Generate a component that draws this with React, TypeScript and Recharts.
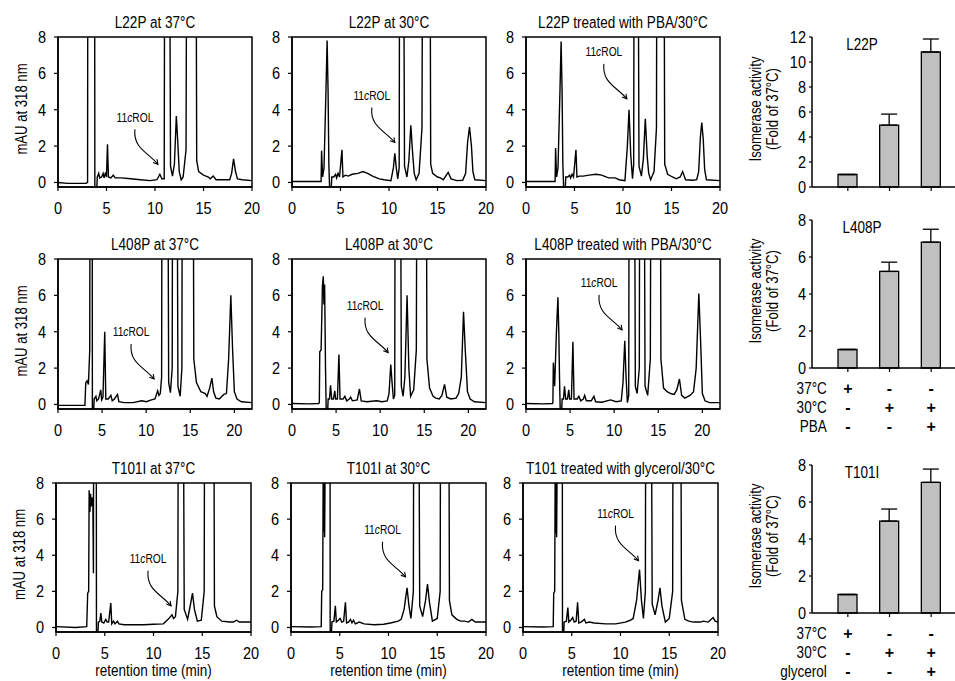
import React from 'react';
import {
  LineChart,
  Line,
  BarChart,
  Bar,
  ErrorBar,
  XAxis,
  YAxis,
  ReferenceArea,
  ReferenceDot,
} from 'recharts';

const FONT = "'Liberation Sans', Arial, sans-serif";

// HPLC traces: [retention time (min), mAU at 318 nm]; 30 = peak off scale
const L22P_37: [number, number][] = [
  [0, 0], [1, -0.05], [2.9, -0.05], [3.05, 0], [3.1, 30], [3.75, 30], [3.8, -0.3], [4.0, -0.3], [4.05, 0.3],
  [4.2, 0.5], [4.3, 0.25], [4.5, 0.3], [4.65, 0.5], [4.75, 0.25], [4.9, 0.55], [5.0, 0.3], [5.1, 2.1], [5.2, 0.3],
  [5.45, 0.25], [5.7, 0.4], [5.9, 0.25], [6.5, 0.25], [7.5, 0.2], [8.5, 0.15], [9.5, 0.1], [10.2, 0.15],
  [10.5, 0.45], [10.7, 0.2], [10.95, 0.2], [11.05, 30], [11.4, 30], [11.6, 0.9], [11.8, 0.35], [12.0, 1.0],
  [12.2, 3.65], [12.35, 2.2], [12.5, 0.6], [12.7, 0.15], [12.9, 0.3], [13.2, 1.8], [13.35, 30], [14.15, 30],
  [14.3, 1.2], [14.5, 0.6], [15.0, 0.4], [15.5, 0.3], [15.7, 0.2], [16.0, 0.35], [16.3, 0.15], [17.0, 0.15],
  [17.7, 0.15], [17.9, 0.5], [18.1, 1.3], [18.3, 0.6], [18.5, 0.2], [19, 0.15], [20, 0.1],
];
const L22P_30: [number, number][] = [
  [0, 0.05], [2, 0.05], [3.0, 0.05], [3.05, 1.75], [3.15, 0.3], [3.3, 0.8], [3.5, 5], [3.62, 7.8], [3.72, 5],
  [3.8, 1], [3.88, -0.3], [4.05, -0.3], [4.1, 0.3], [4.3, 0.3], [4.5, 0.45], [4.6, 0.25], [4.75, 0.5], [4.9, 0.3],
  [5.15, 1.8], [5.25, 0.3], [5.5, 0.4], [5.8, 0.35], [6.2, 0.45], [6.8, 0.5], [7.3, 0.6], [7.8, 0.5], [8.3, 0.35],
  [9, 0.2], [9.5, 0.15], [10.2, 0.1], [10.45, 0.8], [10.6, 1.6], [10.75, 0.8], [10.9, 0.2], [11.05, 0.8],
  [11.15, 30], [11.4, 30], [11.6, 0.9], [11.85, 0.3], [12.05, 1.2], [12.25, 3.15], [12.45, 1.5], [12.6, 0.5],
  [12.8, 0.15], [13.1, 0.5], [13.4, 3], [13.55, 30], [14.15, 30], [14.3, 1.0], [14.5, 0.5], [15.0, 0.3],
  [15.3, 0.25], [15.6, 0.15], [16.1, 0.55], [16.4, 0.2], [17.0, 0.1], [17.6, 0.12], [17.9, 0.5], [18.1, 2.2],
  [18.3, 3.05], [18.5, 2.0], [18.65, 0.6], [18.85, 0.15], [20, 0.1],
];
const L22P_PBA: [number, number][] = [
  [0, 0.05], [2, 0.05], [3.0, 0.05], [3.05, 1.9], [3.15, 0.3], [3.3, 0.8], [3.5, 5], [3.62, 7.75], [3.72, 5],
  [3.8, 1], [3.88, -0.3], [4.05, -0.3], [4.1, 0.3], [4.3, 0.3], [4.5, 0.4], [4.6, 0.25], [4.75, 0.45], [4.9, 0.3],
  [5.15, 1.8], [5.25, 0.3], [5.5, 0.35], [5.9, 0.35], [6.5, 0.4], [7.2, 0.45], [7.8, 0.4], [8.5, 0.25],
  [9.2, 0.25], [9.6, 0.15], [10.2, 0.1], [10.45, 2.0], [10.62, 4.0], [10.8, 1.5], [10.98, 0.2], [11.1, 1],
  [11.2, 30], [11.45, 30], [11.65, 0.9], [11.9, 0.35], [12.1, 1.3], [12.3, 3.5], [12.5, 1.4], [12.65, 0.5],
  [12.85, 0.15], [13.2, 0.6], [13.45, 3], [13.55, 30], [14.15, 30], [14.3, 1.0], [14.6, 0.45], [15.1, 0.3],
  [15.5, 0.2], [15.9, 0.3], [16.15, 0.6], [16.45, 0.15], [17.2, 0.12], [17.6, 0.15], [17.8, 0.6], [17.98, 2.5],
  [18.12, 3.3], [18.27, 2.4], [18.42, 0.7], [18.6, 0.15], [20, 0.1],
];
const L408P_37: [number, number][] = [
  [0, -0.05], [2, -0.05], [3.05, -0.05], [3.15, 1.2], [3.3, 1.3], [3.45, 1.1], [3.6, 3], [3.68, 30], [3.85, 30],
  [3.9, -0.3], [4.05, -0.3], [4.1, 0.3], [4.3, 0.45], [4.4, 0.2], [4.6, 0.3], [4.85, 0.8], [4.95, 0.25],
  [5.1, 0.4], [5.3, 4.0], [5.42, 0.3], [5.7, 0.3], [6.0, 0.5], [6.15, 0.2], [6.4, 0.3], [6.75, 0.55], [6.9, 0.15],
  [7.5, 0.1], [8.5, 0.1], [9.5, 0.2], [10.0, 0.15], [10.6, 0.25], [11.0, 0.3], [11.3, 0.75], [11.45, 0.5],
  [11.6, 0.6], [11.75, 1.5], [11.85, 30], [12.35, 30], [12.55, 1.2], [12.75, 0.65], [12.95, 2], [13.05, 30],
  [13.4, 30], [13.6, 1], [13.85, 0.45], [14.05, 2], [14.15, 30], [15.25, 30], [15.4, 2.5], [15.7, 1.2],
  [16.2, 0.7], [16.7, 0.6], [16.9, 0.45], [17.2, 0.9], [17.45, 1.45], [17.65, 0.7], [17.9, 0.35], [18.3, 0.3],
  [18.8, 0.55], [19.1, 0.6], [19.35, 2.5], [19.6, 6.0], [19.8, 3], [20.0, 0.7], [20.3, 0.3], [20.8, 0.15], [22, 0.1],
];
const L408P_30: [number, number][] = [
  [0, 0.05], [2, 0.03], [3.0, 0.05], [3.1, 0.1], [3.15, 2.9], [3.3, 3.0], [3.45, 6.5], [3.55, 7.05], [3.62, 5.5],
  [3.7, 6.6], [3.8, 2], [3.88, -0.3], [4.05, -0.3], [4.1, 0.3], [4.25, 0.3], [4.37, 1.05], [4.5, 0.3], [4.7, 0.3],
  [4.85, 0.75], [4.95, 0.3], [5.15, 0.3], [5.32, 2.75], [5.45, 0.3], [5.8, 0.3], [6.0, 0.45], [6.2, 0.2],
  [6.5, 0.3], [6.65, 0.4], [6.85, 0.2], [7.4, 0.25], [7.65, 0.85], [7.85, 0.2], [8.5, 0.15], [9.6, 0.2],
  [10.2, 0.15], [10.8, 0.2], [11.0, 0.6], [11.2, 2.2], [11.35, 1.2], [11.5, 0.3], [11.65, 0.5], [11.75, 30],
  [12.2, 30], [12.4, 1.0], [12.6, 0.45], [12.8, 1.5], [13.05, 6.0], [13.25, 2], [13.45, 0.45], [13.8, 0.8],
  [14.1, 3], [14.25, 30], [15.15, 30], [15.3, 2.5], [15.6, 0.9], [16.0, 0.45], [16.3, 0.35], [16.7, 0.3],
  [17.0, 0.5], [17.3, 1.1], [17.55, 0.4], [18.0, 0.3], [18.6, 0.35], [18.9, 0.6], [19.2, 1.5], [19.45, 5.1],
  [19.65, 3], [19.9, 0.7], [20.2, 0.3], [20.7, 0.15], [22, 0.1],
];
const L408P_PBA: [number, number][] = [
  [0, 0.05], [2, 0.03], [3.0, 0.05], [3.05, 0.1], [3.1, 2.3], [3.25, 1.0], [3.45, 4], [3.62, 5.9], [3.72, 4],
  [3.8, 1.5], [3.88, -0.3], [4.05, -0.3], [4.1, 0.3], [4.25, 0.3], [4.37, 1.0], [4.5, 0.3], [4.7, 0.3],
  [4.85, 0.8], [4.95, 0.3], [5.15, 0.3], [5.32, 3.45], [5.45, 0.3], [5.8, 0.3], [6.0, 0.45], [6.2, 0.2],
  [6.5, 0.3], [6.65, 0.5], [6.85, 0.2], [7.4, 0.2], [7.7, 0.45], [7.9, 0.15], [8.6, 0.12], [9.6, 0.25],
  [10.2, 0.15], [10.8, 0.2], [11.0, 1.2], [11.2, 3.5], [11.35, 1.5], [11.5, 0.1], [11.65, 0.5], [11.75, 30],
  [12.2, 30], [12.4, 1.0], [12.6, 0.6], [12.85, 2], [12.95, 30], [13.3, 30], [13.5, 1.0], [13.8, 0.5],
  [14.1, 2.5], [14.25, 30], [15.15, 30], [15.3, 2.5], [15.6, 0.9], [16.0, 0.7], [16.4, 0.6], [16.8, 0.55],
  [17.1, 0.8], [17.4, 1.4], [17.65, 0.5], [18.0, 0.35], [18.6, 0.5], [19.0, 0.7], [19.3, 2], [19.6, 6.1],
  [19.8, 3.5], [20.0, 0.6], [20.3, 0.2], [20.8, 0.1], [22, 0.1],
];
const T101I_37: [number, number][] = [
  [0, 0.05], [2, 0.0], [3.15, 0.05], [3.25, 1.9], [3.35, 2.0], [3.4, 7.6], [3.48, 6.4], [3.55, 7.4], [3.62, 6.7],
  [3.7, 7.2], [3.78, 6.9], [3.84, 3], [3.9, 30], [4.1, 30], [4.15, -0.3], [4.3, -0.3], [4.35, 0.3], [4.5, 0.35],
  [4.6, 0.8], [4.7, 0.3], [4.9, 0.25], [5.1, 0.45], [5.25, 0.3], [5.4, 0.3], [5.62, 1.35], [5.72, 0.2],
  [5.9, 0.35], [6.05, 0.2], [6.3, 0.35], [6.45, 0.2], [7, 0.15], [8, 0.15], [9, 0.15], [10, 0.18], [11, 0.2],
  [11.5, 0.45], [11.9, 0.7], [12.05, 0.5], [12.25, 0.6], [12.5, 2], [12.6, 30], [12.95, 30], [13.15, 1.0],
  [13.5, 0.45], [13.8, 1.3], [14.0, 1.9], [14.2, 1.0], [14.5, 0.35], [14.9, 0.4], [15.2, 2], [15.3, 30],
  [16.1, 30], [16.25, 1.2], [16.5, 0.6], [17.0, 0.35], [17.8, 0.3], [18.2, 0.3], [18.5, 0.4], [18.8, 0.3], [20, 0.3],
];
const T101I_30: [number, number][] = [
  [0, 0.05], [2, 0.03], [3.1, 0.05], [3.15, 2.0], [3.25, 2.1], [3.3, 8.5], [3.35, 5.3], [3.4, 9], [3.45, 5],
  [3.5, 9], [3.55, 30], [3.98, 30], [4.02, -0.3], [4.15, -0.3], [4.2, 0.3], [4.4, 0.35], [4.55, 1.2],
  [4.65, 0.3], [4.85, 0.4], [5.05, 0.5], [5.2, 0.3], [5.4, 0.35], [5.58, 1.4], [5.7, 0.25], [5.9, 0.3],
  [6.1, 0.45], [6.25, 0.25], [6.4, 0.4], [6.6, 0.2], [7.0, 0.3], [7.5, 0.2], [8.5, 0.15], [9.5, 0.18],
  [10.2, 0.25], [11.0, 0.35], [11.3, 0.45], [11.6, 1.0], [11.9, 2.2], [12.1, 1.2], [12.3, 0.5], [12.55, 2],
  [12.65, 30], [13.0, 30], [13.2, 1.2], [13.5, 0.6], [13.8, 1.5], [14.0, 2.4], [14.2, 1.4], [14.5, 0.35],
  [15.0, 0.5], [15.3, 2], [15.4, 30], [16.1, 30], [16.25, 1.5], [16.5, 0.7], [17.0, 0.45], [17.4, 0.35],
  [17.8, 0.35], [18.2, 0.3], [18.55, 0.45], [18.9, 0.3], [20, 0.3],
];
const T101_GLY: [number, number][] = [
  [0, 0.05], [2, 0.03], [3.1, 0.05], [3.15, 1.9], [3.25, 2.0], [3.3, 8.5], [3.35, 5.2], [3.4, 9], [3.45, 5],
  [3.5, 9], [3.55, 30], [4.0, 30], [4.05, -0.3], [4.18, -0.3], [4.22, 0.3], [4.45, 0.35], [4.6, 1.1], [4.7, 0.3],
  [4.9, 0.4], [5.1, 0.55], [5.25, 0.3], [5.45, 0.35], [5.6, 1.4], [5.72, 0.25], [5.95, 0.3], [6.3, 0.45],
  [6.45, 0.25], [6.8, 0.3], [7.3, 0.25], [8.5, 0.2], [9.5, 0.2], [10.5, 0.3], [11.0, 0.4], [11.3, 0.5],
  [11.65, 1.5], [11.95, 3.2], [12.15, 1.5], [12.35, 0.5], [12.55, 2], [12.65, 30], [13.05, 30], [13.25, 1.3],
  [13.55, 0.7], [13.85, 1.5], [14.05, 2.2], [14.25, 1.2], [14.6, 0.3], [15.0, 0.5], [15.35, 2], [15.45, 30],
  [16.1, 30], [16.25, 1.5], [16.6, 0.45], [17.0, 0.35], [17.5, 0.3], [18.2, 0.3], [18.5, 0.35], [19.0, 0.3],
  [19.5, 0.55], [19.7, 0.35], [20, 0.3],
];

const X_TICKS = [0, 5, 10, 15, 20];
const Y_TICKS = [0, 2, 4, 6, 8];
const Y_TICKS_12 = [0, 2, 4, 6, 8, 10, 12];

// isomerase activity, fold of 37°C (bar value and upper error)
const CONDITIONS = [0, 1, 2];
const L22P_FOLD = [1, 4.95, 10.8];
const L22P_ERR = [0, 0.88, 1.04];
const L408P_FOLD = [1, 5.22, 6.8];
const L408P_ERR = [0, 0.5, 0.7];
const T101I_FOLD = [1, 4.97, 7.06];
const T101I_ERR = [0, 0.65, 0.72];

const MARK_37 = ['+', '-', '-'];
const MARK_30 = ['-', '+', '+'];
const MARK_PBA = ['-', '-', '+'];
const MARK_GLY = ['-', '-', '+'];

const ROW_TOP = [37, 259, 483];
const ROW_LEFT = [[58, 292, 526], [58, 292, 526], [56, 291, 523]];
const ROW_W = [194, 194, 195];
const ROW_H = [150, 150, 149];

const PANELS = [
  { title: 'L22P at 37°C', trace: L22P_37, xMax: 20, tip: [10.3, 1.0], row: 0, col: 0 },
  { title: 'L22P at 30°C', trace: L22P_30, xMax: 20, tip: [10.6, 2.2], row: 0, col: 1 },
  { title: 'L22P treated with PBA/30°C', trace: L22P_PBA, xMax: 20, tip: [10.4, 4.6], row: 0, col: 2 },
  { title: 'L408P at 37°C', trace: L408P_37, xMax: 22, tip: [10.9, 1.4], row: 1, col: 0 },
  { title: 'L408P at 30°C', trace: L408P_30, xMax: 22, tip: [10.9, 2.85], row: 1, col: 1 },
  { title: 'L408P treated with PBA/30°C', trace: L408P_PBA, xMax: 22, tip: [10.9, 4.1], row: 1, col: 2 },
  { title: 'T101I at 37°C', trace: T101I_37, xMax: 20, tip: [11.8, 1.2], row: 2, col: 0 },
  { title: 'T101I at 30°C', trace: T101I_30, xMax: 20, tip: [11.75, 2.8], row: 2, col: 1 },
  { title: 'T101 treated with glycerol/30°C', trace: T101_GLY, xMax: 20, tip: [11.85, 3.7], row: 2, col: 2 },
];

// the figure uses a condensed face; squeeze Liberation Sans horizontally
const NText = ({ x, y, size, anchor = 'middle', rotate = 0, sx = 0.82, dy = '0.35em', bold = false, children }: any) => (
  <text
    transform={`translate(${x},${y}) rotate(${rotate}) scale(${sx},1)`}
    x={0}
    y={0}
    dy={dy}
    textAnchor={anchor}
    fontSize={size}
    fontFamily={FONT}
    fontWeight={bold ? 'bold' : 'normal'}
    fill="#000"
  >
    {children}
  </text>
);

const XTick = ({ x, y, payload }: any) => (
  <NText x={x} y={y + 17} size={16.5} sx={0.88}>{payload.value}</NText>
);
const YTick = ({ x, y, payload }: any) => (
  <NText x={x} y={y} size={16.5} sx={0.88} anchor="end">{payload.value}</NText>
);

// rotated axis title, one or two lines, centred on the plot height
const VLabel = ({ viewBox, lines, dx }: any) => {
  const cy = viewBox.y + viewBox.height / 2 - 3;
  return (
    <g>
      {lines.map((l: string, i: number) => (
        <NText key={i} x={viewBox.x + dx + i * 17} y={cy} size={16} rotate={-90}>{l}</NText>
      ))}
    </g>
  );
};

// "11cROL" with the curved arrow, anchored at the arrow tip
const PeakArrow = ({ viewBox }: any) => (
  <g transform={`translate(${viewBox.x},${viewBox.y})`}>
    <NText x={-23} y={-47} size={12.5}>
      11<tspan fontStyle="italic">c</tspan>ROL
    </NText>
    <path d="M -23 -35 C -25 -16, -10 -12, 0 0" fill="none" stroke="#000" strokeWidth={1.1} />
    <path d="M -0.9 -5 L 0 0 L -4.8 -1.8" fill="none" stroke="#000" strokeWidth={1.1} />
  </g>
);

const ML = 58;
const MT = 37;
const XH = 52;
const AXIS = { stroke: '#000', strokeWidth: 1.5 };

function Chromatogram({ panel }: { panel: typeof PANELS[number] }) {
  const { row, col } = panel;
  const left = ROW_LEFT[row][col];
  const top = ROW_TOP[row];
  const pw = ROW_W[row];
  const ph = ROW_H[row];
  const data = panel.trace.map(([t, v]) => ({ t, v }));
  return (
    <div style={{ position: 'absolute', left: left - ML, top: top - MT }}>
      <LineChart
        width={ML + pw + 22}
        height={MT + ph + XH}
        data={data}
        margin={{ top: MT, right: 22, bottom: 0, left: ML - 40 }}
      >
        <XAxis
          type="number"
          dataKey="t"
          domain={[0, panel.xMax]}
          ticks={X_TICKS}
          interval={0}
          allowDataOverflow
          height={XH}
          tickSize={4}
          tickMargin={0}
          tick={XTick}
          axisLine={AXIS}
          tickLine={{ stroke: '#000', strokeWidth: 1.2 }}
          label={
            row === 2
              ? (p: any) => (
                  <NText x={p.viewBox.x + p.viewBox.width / 2} y={p.viewBox.y + 38} size={16.5}>
                    retention time (min)
                  </NText>
                )
              : undefined
          }
        />
        <YAxis
          type="number"
          domain={[-0.25, 8]}
          ticks={Y_TICKS}
          interval={0}
          allowDataOverflow
          width={40}
          tickSize={4}
          tickMargin={8}
          tick={YTick}
          axisLine={AXIS}
          tickLine={{ stroke: '#000', strokeWidth: 1.2 }}
          label={col === 0 ? (p: any) => <VLabel viewBox={p.viewBox} lines={['mAU at 318 nm']} dx={3} /> : undefined}
        />
        <ReferenceArea
          x1={0}
          x2={panel.xMax}
          y1={-0.25}
          y2={8}
          fill="none"
          fillOpacity={0}
          stroke="#000"
          strokeWidth={1.5}
          label={(p: any) => (
            <NText x={p.viewBox.x + p.viewBox.width / 2} y={p.viewBox.y - 15} size={16.5}>
              {panel.title}
            </NText>
          )}
        />
        <Line
          dataKey="v"
          type="linear"
          stroke="#000"
          strokeWidth={1.4}
          dot={false}
          isAnimationActive={false}
        />
        <ReferenceDot
          x={panel.tip[0]}
          y={panel.tip[1]}
          r={0}
          fill="none"
          stroke="none"
          label={(p: any) => <PeakArrow viewBox={p.viewBox} />}
        />
      </LineChart>
    </div>
  );
}

type MarkRow = { label: string; marks: string[] };

const ConditionTick = ({ x, y, payload, rows }: any) => {
  const i = payload.value;
  return (
    <g>
      {rows.map((r: MarkRow, ri: number) => (
        <g key={ri}>
          <NText x={x} y={y + 16 + ri * 19} size={16} sx={1} bold>{r.marks[i]}</NText>
          {i === 0 && (
            <NText x={x - 21} y={y + 16 + ri * 19} size={16.5} anchor="end">{r.label}</NText>
          )}
        </g>
      ))}
    </g>
  );
};

function ActivityBars({
  title, fold, err, top, plotH, yMax, yTicks, rows,
}: {
  title: string; fold: number[]; err: number[]; top: number; plotH: number;
  yMax: number; yTicks: number[]; rows?: MarkRow[];
}) {
  const data = CONDITIONS.map(k => ({ k, v: fold[k], e: [0, err[k]] }));
  const xh = rows ? 70 : 12;
  return (
    <div style={{ position: 'absolute', left: 740, top: top - 10 }}>
      <BarChart
        width={215}
        height={10 + plotH + xh}
        data={data}
        margin={{ top: 10, right: 0, bottom: 0, left: 0 }}
      >
        <XAxis
          dataKey="k"
          type="category"
          padding={{ left: 15, right: 3 }}
          height={xh}
          tickSize={4}
          tickMargin={0}
          interval={0}
          axisLine={AXIS}
          tickLine={{ stroke: '#000', strokeWidth: 1.2 }}
          tick={rows ? (p: any) => <ConditionTick {...p} rows={rows} /> : () => <g />}
        />
        <YAxis
          type="number"
          domain={[0, yMax]}
          ticks={yTicks}
          interval={0}
          width={72}
          tickSize={3}
          tickMargin={3}
          tick={YTick}
          axisLine={AXIS}
          tickLine={{ stroke: '#000', strokeWidth: 1.2 }}
          label={(p: any) => (
            <VLabel viewBox={p.viewBox} lines={['Isomerase activity', '(Fold of 37°C)']} dx={15} />
          )}
        />
        <Bar dataKey="v" fill="#c0c0c0" stroke="#000" strokeWidth={1.3} barSize={19} isAnimationActive={false}>
          <ErrorBar dataKey="e" direction="y" width={8} stroke="#000" strokeWidth={1.3} isAnimationActive={false} />
        </Bar>
        <NText x={122} y={17} size={16.5}>{title}</NText>
      </BarChart>
    </div>
  );
}

export default function App() {
  return (
    <div
      style={{
        position: 'absolute',
        left: 0,
        top: 0,
        width: 955,
        height: 681,
        background: '#fff',
        overflow: 'hidden',
        fontFamily: FONT,
      }}
    >
      {PANELS.map(p => (
        <Chromatogram key={p.title} panel={p} />
      ))}
      <ActivityBars title="L22P" fold={L22P_FOLD} err={L22P_ERR} top={37} plotH={150} yMax={12} yTicks={Y_TICKS_12} />
      <ActivityBars
        title="L408P"
        fold={L408P_FOLD}
        err={L408P_ERR}
        top={220}
        plotH={148}
        yMax={8}
        yTicks={Y_TICKS}
        rows={[
          { label: '37°C', marks: MARK_37 },
          { label: '30°C', marks: MARK_30 },
          { label: 'PBA', marks: MARK_PBA },
        ]}
      />
      <ActivityBars
        title="T101I"
        fold={T101I_FOLD}
        err={T101I_ERR}
        top={465}
        plotH={148}
        yMax={8}
        yTicks={Y_TICKS}
        rows={[
          { label: '37°C', marks: MARK_37 },
          { label: '30°C', marks: MARK_30 },
          { label: 'glycerol', marks: MARK_GLY },
        ]}
      />
    </div>
  );
}
